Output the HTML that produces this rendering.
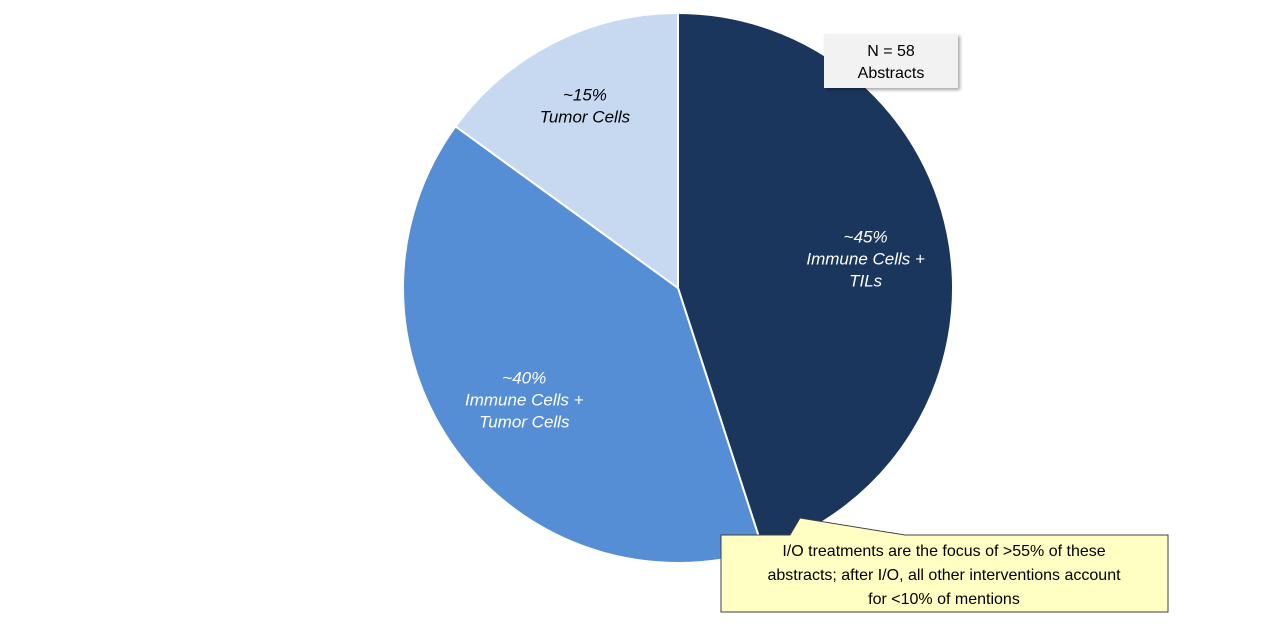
<!DOCTYPE html>
<html><head><meta charset="utf-8"><style>
body{margin:0;width:1280px;height:620px;background:#fff;overflow:hidden;font-family:"Liberation Sans",sans-serif}
svg text{font-family:"Liberation Sans",sans-serif}
</style></head><body>
<svg id="chart" width="1280" height="620">
<defs><filter id="sh" x="-10%" y="-10%" width="130%" height="140%"><feDropShadow dx="2" dy="2" stdDeviation="1.5" flood-color="#000" flood-opacity="0.35"/></filter></defs>
<g id="slices"></g>
<g id="labels"></g>
<g>
<rect x="824" y="34" width="134" height="54" fill="#f2f2f2" filter="url(#sh)"/>
<text x="891" y="56" font-size="16" text-anchor="middle" fill="#000">N = 58</text>
<text x="891" y="78" font-size="16" text-anchor="middle" fill="#000">Abstracts</text>
</g>
<g>
<path d="M721,535 L790,535 L800,518 L905,535 L1168,535 L1168,612 L721,612 Z" fill="#ffffc4" stroke="#404040" stroke-width="1"/>
<text x="944" y="556" font-size="16" text-anchor="middle" fill="#000">I/O treatments are the focus of &gt;55% of these</text>
<text x="944" y="580" font-size="16" text-anchor="middle" fill="#000">abstracts; after I/O, all other interventions account</text>
<text x="944" y="604" font-size="16" text-anchor="middle" fill="#000">for &lt;10% of mentions</text>
</g>
</svg>
<script>
const categories = ["Immune Cells + TILs", "Immune Cells + Tumor Cells", "Tumor Cells"];
const values = [45, 40, 15];
const pctLabels = ["~45%", "~40%", "~15%"];
const labelLines = [["Immune Cells +", "TILs"], ["Immune Cells +", "Tumor Cells"], ["Tumor Cells"]];
const colors = ["#1b365d", "#558ed5", "#c6d9f1"];
const textColors = ["#fff", "#fff", "#000"];
const cx = 678, cy = 288, r = 275;
const ns = "http://www.w3.org/2000/svg";
const total = values.reduce((a, b) => a + b, 0);
function pt(frac, rad) { const a = frac * 2 * Math.PI; return [cx + rad * Math.sin(a), cy - rad * Math.cos(a)]; }
const gS = document.getElementById("slices"), gL = document.getElementById("labels");
let acc = 0;
values.forEach((v, i) => {
  const f0 = acc / total, f1 = (acc + v) / total; acc += v;
  const [x0, y0] = pt(f0, r), [x1, y1] = pt(f1, r);
  const p = document.createElementNS(ns, "path");
  p.setAttribute("d", `M${cx},${cy} L${x0},${y0} A${r},${r} 0 ${f1 - f0 > 0.5 ? 1 : 0} 1 ${x1},${y1} Z`);
  p.setAttribute("fill", colors[i]);
  p.setAttribute("stroke", "#fff");
  p.setAttribute("stroke-width", "2");
  
  
  gS.appendChild(p);
  const [lx, ly] = pt((f0 + f1) / 2, i === 2 ? 205 : 190);
  const lines = [pctLabels[i]].concat(labelLines[i]);
  const t = document.createElementNS(ns, "text");
  t.setAttribute("text-anchor", "middle");
  t.setAttribute("font-size", "17");
  t.setAttribute("font-style", "italic");
  t.setAttribute("fill", textColors[i]);
  
  
  const startY = ly - (lines.length - 1) * 11 + 6;
  lines.forEach((s, j) => {
    const ts = document.createElementNS(ns, "tspan");
    ts.setAttribute("x", lx); ts.setAttribute("y", startY + j * 22);
    ts.textContent = s; t.appendChild(ts);
  });
  gL.appendChild(t);
});
</script>
</body></html>
